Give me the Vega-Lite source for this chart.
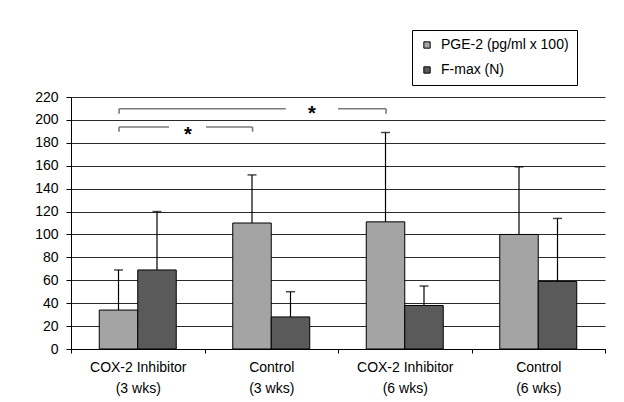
{
  "$schema": "https://vega.github.io/schema/vega-lite/v6.json",
  "width": 534,
  "height": 252,
  "autosize": {"type": "none"},
  "padding": {"left": 71, "top": 97, "right": 19, "bottom": 53},
  "background": "white",
  "config": {
    "font": "Liberation Sans",
    "view": {"stroke": null},
    "axis": {"labelFont": "Liberation Sans", "labelColor": "#000", "domainColor": "#000", "tickColor": "#000"},
    "axisY": {"tickCount": 11, "labelFontSize": 14, "tickSize": 5, "labelPadding": 8, "labelOverlap": false, "grid": true, "gridColor": "#2a2a2a", "gridWidth": 1, "gridOpacity": 1, "title": null}
  },
  "datasets": {
    "bars": [
      {"group": "COX-2 Inhibitor|(3 wks)", "series": "PGE-2 (pg/ml x 100)", "value": 34, "err": 69},
      {"group": "COX-2 Inhibitor|(3 wks)", "series": "F-max (N)", "value": 69, "err": 120},
      {"group": "Control|(3 wks)", "series": "PGE-2 (pg/ml x 100)", "value": 110, "err": 152},
      {"group": "Control|(3 wks)", "series": "F-max (N)", "value": 28, "err": 50},
      {"group": "COX-2 Inhibitor|(6 wks)", "series": "PGE-2 (pg/ml x 100)", "value": 111, "err": 189},
      {"group": "COX-2 Inhibitor|(6 wks)", "series": "F-max (N)", "value": 38, "err": 55},
      {"group": "Control|(6 wks)", "series": "PGE-2 (pg/ml x 100)", "value": 100, "err": 159},
      {"group": "Control|(6 wks)", "series": "F-max (N)", "value": 59, "err": 114}
    ],
    "brackets": [
      {"x": 0.36, "x2": 0.36, "y": 189.7, "y2": 193.8},
      {"x": 0.36, "x2": 0.734, "y": 193.8, "y2": 193.8},
      {"x": 1.011, "x2": 1.36, "y": 193.8, "y2": 193.8},
      {"x": 1.36, "x2": 1.36, "y": 189.7, "y2": 193.8},
      {"x": 0.36, "x2": 0.36, "y": 205.4, "y2": 209.8},
      {"x": 0.36, "x2": 1.608, "y": 209.8, "y2": 209.8},
      {"x": 2.0, "x2": 2.36, "y": 209.8, "y2": 209.8},
      {"x": 2.36, "x2": 2.36, "y": 205.4, "y2": 209.8}
    ],
    "stars": [
      {"x": 0.876, "y": 192, "label": "*"},
      {"x": 1.805, "y": 210, "label": "*"}
    ]
  },
  "layer": [
    {
      "data": {"name": "bars"},
      "encoding": {
        "x": {
          "field": "group", "type": "nominal", "sort": null, "title": null,
          "scale": {"paddingInner": 0, "paddingOuter": 0},
          "axis": {
            "labelAngle": 0, "labelFontSize": 14, "labelLineHeight": 21,
            "labelExpr": "isValid(datum.value) ? split(datum.value, '|') : ''", "tickBand": "extent",
            "tickSize": 4, "labelPadding": 7, "domainWidth": 1, "labelBaseline": "top"
          }
        },
        "xOffset": {
          "field": "series", "type": "nominal", "sort": ["PGE-2 (pg/ml x 100)", "F-max (N)"],
          "scale": {"paddingInner": 0, "paddingOuter": 0.734}
        }
      },
      "layer": [
        {
          "mark": {"type": "bar", "stroke": "#000", "strokeWidth": 1},
          "encoding": {
            "y": {
              "field": "value", "type": "quantitative", "title": null,
              "scale": {"domain": [0, 220], "nice": false}
            },
            "color": {
              "field": "series", "type": "nominal", "sort": ["PGE-2 (pg/ml x 100)", "F-max (N)"],
              "scale": {"domain": ["PGE-2 (pg/ml x 100)", "F-max (N)"], "range": ["#a4a4a4", "#5a5a5a"]},
              "legend": {
                "title": null, "orient": "none", "legendX": 341, "legendY": -67,
                "strokeColor": "#000", "padding": 8, "rowPadding": 11,
                "symbolType": "square", "symbolSize": 40, "symbolStrokeColor": "#000",
                "symbolStrokeWidth": 1, "labelFontSize": 14, "labelFont": "Liberation Sans",
                "labelColor": "#000", "labelOffset": 7, "fillColor": "white"
              }
            }
          }
        },
        {
          "mark": {"type": "rule", "color": "#000", "strokeWidth": 1.2},
          "encoding": {
            "y": {"field": "value", "type": "quantitative", "title": null},
            "y2": {"field": "err"}
          }
        },
        {
          "mark": {"type": "tick", "color": "#000", "size": 9, "thickness": 1.5},
          "encoding": {
            "y": {"field": "err", "type": "quantitative", "title": null}
          }
        }
      ]
    },
    {
      "layer": [
        {
          "data": {"name": "brackets"},
          "mark": {"type": "rule", "color": "#7a7a7a", "strokeWidth": 1.6},
          "encoding": {
            "x": {"field": "x", "type": "quantitative", "scale": {"domain": [0, 4], "nice": false, "zero": false}, "axis": null},
            "x2": {"field": "x2"},
            "y": {"field": "y", "type": "quantitative", "title": null},
            "y2": {"field": "y2"}
          }
        },
        {
          "data": {"name": "stars"},
          "mark": {"type": "text", "fontSize": 20, "fontWeight": "bold", "color": "#000", "baseline": "alphabetic", "dy": 12},
          "encoding": {
            "x": {"field": "x", "type": "quantitative", "scale": {"domain": [0, 4], "nice": false, "zero": false}, "axis": null},
            "y": {"field": "y", "type": "quantitative", "title": null},
            "text": {"field": "label"}
          }
        }
      ]
    }
  ],
  "resolve": {"scale": {"x": "independent"}, "axis": {"x": "independent"}}
}
